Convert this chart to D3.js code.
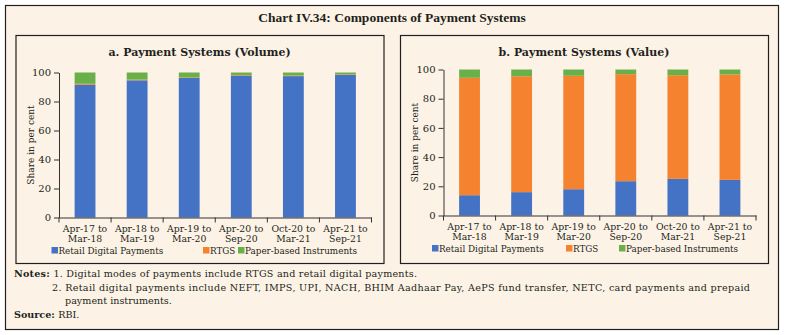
<!DOCTYPE html>
<html>
<head>
<meta charset="utf-8">
<script src="https://cdn.jsdelivr.net/npm/d3@7"></script>
<style>
  body { margin: 0; background: #fff; }
  svg { display: block; }
</style>
</head>
<body>
<div id="grafico"></div>
<script>
const periodos = [["Apr-17 to", "Mar-18"], ["Apr-18 to", "Mar-19"], ["Apr-19 to", "Mar-20"],
  ["Apr-20 to", "Sep-20"], ["Oct-20 to", "Mar-21"], ["Apr-21 to", "Sep-21"]];
const series = ["Retail Digital Payments", "RTGS", "Paper-based Instruments"];

// volumen (%)
const volMinorista = [91.5, 94.6, 96.2, 97.9, 97.5, 98.3];
const volRtgs = [0.7, 0.5, 0.4, 0.4, 0.4, 0.4];
const volPapel = [7.8, 4.9, 3.4, 1.7, 2.1, 1.3];

// valor (%)
const valMinorista = [13.9, 16.0, 18.0, 23.5, 25.1, 24.4];
const valRtgs = [80.4, 79.4, 77.7, 73.3, 71.0, 72.2];
const valPapel = [5.7, 4.6, 4.3, 3.2, 3.9, 3.4];

const ticksY = [0, 20, 40, 60, 80, 100];

const colores = ["#4472C4", "#F4822F", "#6AB04A"];
const fondo = "#FCF3E6";
const serif = "'DejaVu Serif', serif";
const libSerif = "'Liberation Serif', serif";

const $svg = d3.select("#grafico").append("svg")
  .attr("width", 785).attr("height", 335);

$svg.append("rect").attr("width", 785).attr("height", 335).attr("fill", "#fff");
$svg.append("rect").attr("x", 5.5).attr("y", 5.5).attr("width", 773).attr("height", 324)
  .attr("fill", fondo).attr("stroke", "#231f20").attr("stroke-width", 1.2);

$svg.append("text").attr("x", 392).attr("y", 22)
  .attr("text-anchor", "middle").attr("font-family", libSerif)
  .attr("font-weight", "bold").attr("font-size", 13.5).attr("fill", "#231f20")
  .text("Chart IV.34: Components of Payment Systems");

const dibujarPanel = (x0, titulo, minorista, rtgs, papel, yTop, yBottom, posLeyenda) => {
  const g = $svg.append("g").attr("transform", `translate(${x0},0)`);
  g.append("rect").attr("x", 0.5).attr("y", 35.5).attr("width", 368).attr("height", 228)
    .attr("fill", fondo).attr("stroke", "#231f20").attr("stroke-width", 1.2);

  g.append("text").attr("x", 184).attr("y", 56).attr("text-anchor", "middle")
    .attr("font-family", serif).attr("font-weight", "bold").attr("font-size", 11)
    .attr("fill", "#231f20").text(titulo);

  const datos = periodos.map((p, i) => ({
    periodo: p.join(" "),
    [series[0]]: minorista[i], [series[1]]: rtgs[i], [series[2]]: papel[i]
  }));

  const x = d3.scaleBand().domain(datos.map(d => d.periodo)).range([43.5, 356]).padding(0);
  const y = d3.scaleLinear().domain([0, 100]).range([yBottom, yTop]);
  const anchoBarra = x.bandwidth() * 0.4;

  const pila = d3.stack().keys(series)(datos);
  g.selectAll("g.serie").data(pila).join("g")
    .attr("class", "serie")
    .attr("fill", (d, i) => colores[i])
    .selectAll("rect").data(d => d).join("rect")
    .attr("x", d => x(d.data.periodo) + (x.bandwidth() - anchoBarra) / 2)
    .attr("width", anchoBarra)
    .attr("y", d => y(d[1]))
    .attr("height", d => y(d[0]) - y(d[1]));

  const ejeY = g.append("g").attr("transform", `translate(43.5,0)`)
    .call(d3.axisLeft(y).tickValues(ticksY).tickSize(5).tickSizeOuter(0));
  ejeY.select(".domain").attr("stroke", "#333");
  ejeY.selectAll("line").attr("stroke", "#333");
  ejeY.selectAll("text").attr("font-family", serif).attr("font-size", 10).attr("fill", "#231f20");

  const ejeX = g.append("g").attr("transform", `translate(0,${yBottom})`)
    .call(d3.axisBottom(x).tickSize(0).tickSizeOuter(0).tickFormat(""));
  ejeX.select(".domain").attr("stroke", "#333");
  const bordes = x.domain().map(d => x(d)).concat([x.range()[1]]);
  ejeX.selectAll("line.borde").data(bordes).join("line").attr("class", "borde")
    .attr("x1", d => d).attr("x2", d => d).attr("y1", 0).attr("y2", 5).attr("stroke", "#333");

  const etiquetas = g.append("g");
  periodos.forEach((p, i) => {
    const cx = x(datos[i].periodo) + x.bandwidth() / 2;
    p.forEach((linea, j) => {
      etiquetas.append("text").attr("x", cx).attr("y", yBottom + 14 + j * 10.5)
        .attr("text-anchor", "middle").attr("font-family", serif).attr("font-size", 9.3)
        .attr("fill", "#231f20").text(linea);
    });
  });

  g.append("text").attr("transform", `translate(18,${(yTop + yBottom) / 2}) rotate(-90)`)
    .attr("text-anchor", "middle").attr("font-family", serif).attr("font-size", 9)
    .attr("fill", "#231f20").text("Share in per cent");

  series.forEach((s, i) => {
    g.append("rect").attr("x", posLeyenda[i]).attr("y", yBottom + 29.5)
      .attr("width", 6.5).attr("height", 6.5).attr("fill", colores[i]);
    g.append("text").attr("x", posLeyenda[i] + 7).attr("y", yBottom + 36)
      .attr("font-family", serif).attr("font-size", 8.8).attr("fill", "#231f20").text(s);
  });
};

dibujarPanel(15.5, "a. Payment Systems (Volume)", volMinorista, volRtgs, volPapel, 72.5, 217.5, [36, 187.5, 222.5]);
dibujarPanel(400, "b. Payment Systems (Value)", valMinorista, valRtgs, valPapel, 69.5, 215.5, [32, 166, 219]);

// notas
const notas = $svg.append("g").attr("font-family", serif).attr("font-size", 9.6).attr("fill", "#231f20");
const n1 = notas.append("text").attr("x", 14).attr("y", 277)
  .attr("textLength", 403).attr("lengthAdjust", "spacing");
n1.append("tspan").attr("font-weight", "bold").text("Notes: ");
n1.append("tspan").text("1. Digital modes of payments include RTGS and retail digital payments.");
notas.append("text").attr("x", 52).attr("y", 291).attr("textLength", 698).attr("lengthAdjust", "spacing")
  .text("2. Retail digital payments include NEFT, IMPS, UPI, NACH, BHIM Aadhaar Pay, AePS fund transfer, NETC, card payments and prepaid");
notas.append("text").attr("x", 65).attr("y", 304).text("payment instruments.");
const n4 = notas.append("text").attr("x", 14).attr("y", 318);
n4.append("tspan").attr("font-weight", "bold").text("Source: ");
n4.append("tspan").text("RBI.");
</script>
</body>
</html>
